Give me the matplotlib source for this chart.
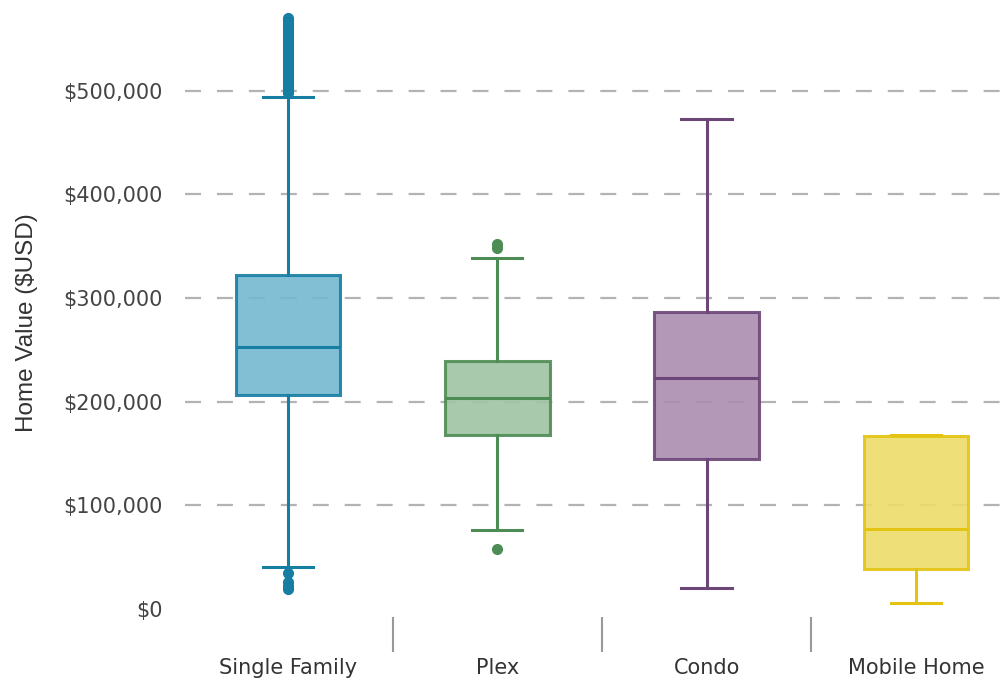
import matplotlib
matplotlib.use("Agg")
import matplotlib.pyplot as plt
from matplotlib.ticker import FuncFormatter

# Home value distribution summaries by property type (USD)
categories = ["Single Family", "Plex", "Condo", "Mobile Home"]
whisker_low = [40500, 76300, 20300, 5800]
q1 = [206600, 168000, 144800, 38600]
median = [252900, 203700, 223000, 77200]
q3 = [322400, 239400, 286700, 167000]
whisker_high = [494000, 338800, 473000, 168000]
outliers = [
    [498000, 500500, 503000, 505500, 508000, 510500, 513000, 515500,
     518000, 520500, 523000, 525500, 528000, 530500, 533000, 535500,
     538000, 540500, 543000, 545500, 548000, 550500, 553000, 555500,
     558000, 560500, 563000, 565500, 568000, 570500,
     35000, 26000, 22000, 19000],
    [352000, 348000, 57900],
    [],
    [],
]
y_ticks = [0, 100000, 200000, 300000, 400000, 500000]

edge_colors = ["#177ea3", "#4e8c55", "#6c4677", "#e3c412"]
fill_colors = ["#74b8d0", "#9fc4a2", "#ab8db0", "#eedc6a"]

plt.rcParams["lines.scale_dashes"] = False
plt.rcParams["font.family"] = ["DejaVu Sans"]

fig = plt.figure(figsize=(10.08, 6.81), dpi=100)
ax = fig.add_axes([185 / 1008, 1 - 609 / 681, 1 - 185 / 1008, (609 - 10) / 681])

positions = list(range(len(categories)))
stats = []
for i, name in enumerate(categories):
    stats.append(dict(label=name, whislo=whisker_low[i], q1=q1[i], med=median[i],
                      q3=q3[i], whishi=whisker_high[i], fliers=outliers[i]))

for i, st in enumerate(stats):
    ec = edge_colors[i]
    ax.bxp([st], positions=[positions[i]], widths=0.5, capwidths=0.24,
           patch_artist=True, manage_ticks=False,
           boxprops=dict(facecolor=fill_colors[i], edgecolor=ec, linewidth=2.2, alpha=0.9),
           medianprops=dict(color=ec, linewidth=2.2),
           whiskerprops=dict(color=ec, linewidth=2.2),
           capprops=dict(color=ec, linewidth=2.2),
           flierprops=dict(marker="o", markerfacecolor=ec, markeredgecolor=ec,
                           markersize=7, linestyle="none"))

ax.set_xlim(-0.492, 3.44)
ax.set_ylim(0, 578000)

ax.set_yticks(y_ticks)
ax.yaxis.set_major_formatter(FuncFormatter(lambda v, p: f"${v:,.0f}"))
ax.tick_params(axis="y", length=0, pad=16, labelsize=15, labelcolor="#444444")

ax.set_axisbelow(True)
ax.yaxis.grid(True, color="#b3b3b3", linewidth=1.6, linestyle=(0, (11.5, 11.5)))
ax.yaxis.get_gridlines()[0].set_visible(False)

# category labels and separators between categories
ax.set_xticks(positions)
ax.set_xticklabels(categories)
ax.set_xticks([0.5, 1.5, 2.5], minor=True)
ax.spines["bottom"].set_position(("outward", 6))
ax.tick_params(axis="x", which="major", length=0, pad=29, labelsize=15, labelcolor="#333333")
ax.tick_params(axis="x", which="minor", length=25, width=1.5, color="#999999", direction="out")

for s in ax.spines.values():
    s.set_visible(False)

fig.text(27 / 1008, 1 - 323 / 681, "Home Value ($USD)", rotation=90,
         ha="center", va="center", fontsize=17.5, color="#333333",
         family=["Liberation Sans", "DejaVu Sans"])

fig.savefig("out.png", dpi=100)
